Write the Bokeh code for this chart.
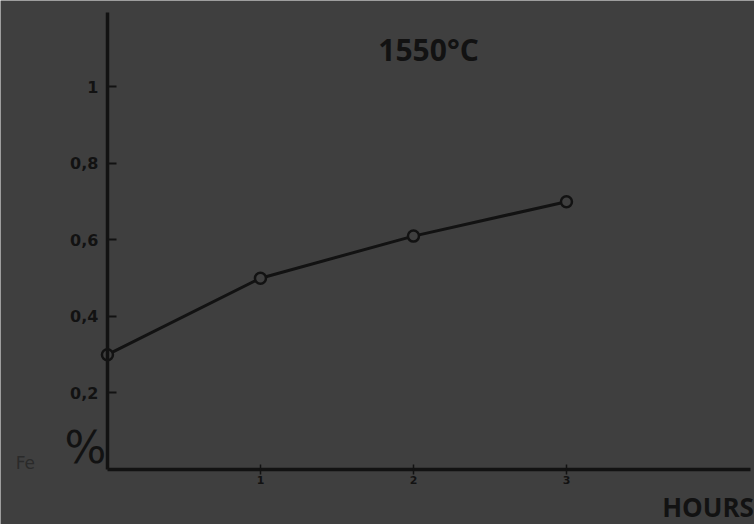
from bokeh.plotting import figure
from bokeh.models import Range1d, FixedTicker, Label
from bokeh.embed import file_html
from bokeh.resources import INLINE

# data
hours = [0, 1, 2, 3]
fe_pct = [0.30, 0.50, 0.61, 0.70]
x_ticks = [1, 2, 3]
y_ticks = [0.2, 0.4, 0.6, 0.8, 1.0]
y_tick_labels = ["0,2", "0,4", "0,6", "0,8", "1"]
title_text = "1550°C"
x_title = "HOURS"

BG = "#3f3f3f"
INK = "#121212"

p = figure(width=754, height=524, output_backend="svg", toolbar_location=None,
           x_range=Range1d(-0.699, 4.229), y_range=Range1d(-0.144, 1.226),
           min_border=0)
p.background_fill_color = BG
p.border_fill_color = BG
p.outline_line_color = None
p.grid.visible = False

# axes
p.yaxis.fixed_location = 0
p.xaxis.fixed_location = 0
p.yaxis.ticker = FixedTicker(ticks=y_ticks)
p.yaxis.major_label_overrides = {t: l for t, l in zip(y_ticks, y_tick_labels)}
p.yaxis.bounds = (0, 1.195)
p.yaxis.axis_line_width = 3.5
p.yaxis.axis_line_color = INK
p.yaxis.major_tick_in = 9
p.yaxis.major_tick_out = 0
p.yaxis.major_tick_line_width = 2
p.yaxis.major_tick_line_color = INK
p.yaxis.minor_tick_line_color = None
p.yaxis.major_label_standoff = 9
p.yaxis.major_label_text_font = "DejaVu Sans"
p.yaxis.major_label_text_font_style = "bold"
p.yaxis.major_label_text_font_size = "16px"
p.yaxis.major_label_text_color = INK

p.xaxis.ticker = FixedTicker(ticks=x_ticks)
p.xaxis.bounds = (0, 4.2)
p.xaxis.axis_line_width = 3.5
p.xaxis.axis_line_color = INK
p.xaxis.major_tick_in = 5
p.xaxis.major_tick_out = 5
p.xaxis.major_tick_line_width = 1.5
p.xaxis.major_tick_line_color = INK
p.xaxis.minor_tick_line_color = None
p.xaxis.major_label_standoff = 2
p.xaxis.major_label_text_font = "DejaVu Sans"
p.xaxis.major_label_text_font_style = "bold"
p.xaxis.major_label_text_font_size = "11px"
p.xaxis.major_label_text_color = INK

# curve and points
p.line(hours, fe_pct, line_color=INK, line_width=3)
p.scatter(hours, fe_pct, size=11, marker="circle", fill_color=BG, line_color=INK, line_width=2.5)

# texts
p.add_layout(Label(x=1.77, y=1.098, text=title_text, text_font="Open Sans",
                   text_font_style="bold", text_font_size="30px", text_color=INK,
                   text_baseline="middle"))
p.add_layout(Label(x=4.225, y=-0.099, text=x_title, text_font="Open Sans",
                   text_font_style="bold", text_font_size="26px", text_color=INK,
                   text_align="right", text_baseline="middle"))
p.add_layout(Label(x=-0.6, y=0.018, text="Fe", text_font="DejaVu Sans",
                   text_font_size="17px", text_color="#2a2a2a", text_baseline="middle"))
p.add_layout(Label(x=-0.144, y=0.058, text="%", text_font="DejaVu Sans",
                   text_font_size="44px", text_color=INK, text_align="center",
                   text_baseline="middle"))

open("out.html", "w").write(file_html(p, INLINE))
